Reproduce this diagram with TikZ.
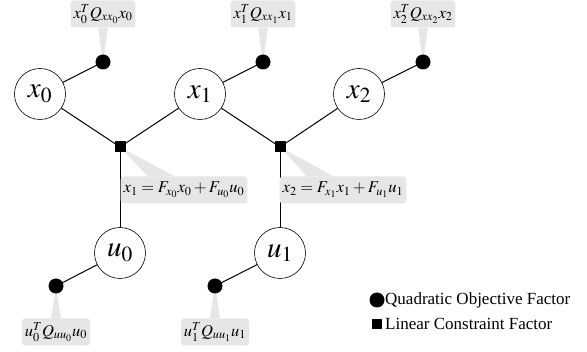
\documentclass[tikz,border=0pt]{standalone}
\usepackage{mathptmx}
\usepackage{fontspec}
\setmainfont{Liberation Serif}
\usetikzlibrary{backgrounds}
\definecolor{boxgray}{HTML}{E6E6E6}
\tikzset{
  var/.style={circle, draw, line width=0.6pt, minimum size=51pt, inner sep=0pt, fill=white, font=\fontsize{29}{29}\selectfont},
  qdot/.style={circle, fill=black, minimum size=15pt, inner sep=0pt},
  lsq/.style={rectangle, fill=black, minimum size=11pt, inner sep=0pt},
  lbl/.style={rectangle, rounded corners=3pt, fill=boxgray, inner sep=3pt, minimum height=27pt, font=\fontsize{16.5}{16.5}\selectfont},
  edge/.style={line width=1pt},
  ptr/.style={fill=boxgray},
  legtxt/.style={anchor=west, inner sep=0pt, font=\fontsize{17}{17}\selectfont}
}
\begin{document}
\begin{tikzpicture}[x=1pt, y=-1pt]
\useasboundingbox (0,0) rectangle (587,352);
% variable nodes
\node[var] (x0) at (40,94) {$x_0$};
\node[var] (x1) at (200,94) {$x_1$};
\node[var] (x2) at (359,94) {$x_2$};
\node[var] (u0) at (120,253) {$u_0$};
\node[var] (u1) at (280,253) {$u_1$};
% quadratic factors
\node[qdot] (qx0) at (103,62) {};
\node[qdot] (qx1) at (263,62) {};
\node[qdot] (qx2) at (423,62) {};
\node[qdot] (qu0) at (56,286) {};
\node[qdot] (qu1) at (215,286) {};
% linear factors
\node[lsq] (f0) at (120,147) {};
\node[lsq] (f1) at (280,147) {};
% labels
\node[lbl] (lx0) at (103,14) {$x_0^TQ_{xx_0}x_0$};
\node[lbl] (lx1) at (263,14) {$x_1^TQ_{xx_1}x_1$};
\node[lbl] (lx2) at (423,14) {$x_2^TQ_{xx_2}x_2$};
\node[lbl] (lf0) at (184,190) {$x_1=F_{x_0}x_0+F_{u_0}u_0$};
\node[lbl] (lf1) at (343,190) {$x_2=F_{x_1}x_1+F_{u_1}u_1$};
\node[lbl] (lu0) at (56,332) {$u_0^TQ_{uu_0}u_0$};
\node[lbl] (lu1) at (215,332) {$u_1^TQ_{uu_1}u_1$};
% pointers
\begin{scope}[on background layer]
\fill[ptr] ([xshift=-5pt]lx0.south) -- (qx0.center) -- ([xshift=5pt]lx0.south) -- cycle;
\fill[ptr] ([xshift=-5pt]lx1.south) -- (qx1.center) -- ([xshift=5pt]lx1.south) -- cycle;
\fill[ptr] ([xshift=-5pt]lx2.south) -- (qx2.center) -- ([xshift=5pt]lx2.south) -- cycle;
\fill[ptr] ([xshift=-5pt]lu0.north) -- (qu0.center) -- ([xshift=5pt]lu0.north) -- cycle;
\fill[ptr] ([xshift=-5pt]lu1.north) -- (qu1.center) -- ([xshift=5pt]lu1.north) -- cycle;
\fill[ptr] ([xshift=27pt]lf0.north west) -- (f0.center) -- ([xshift=54pt]lf0.north west) -- cycle;
\fill[ptr] ([xshift=27pt]lf1.north west) -- (f1.center) -- ([xshift=54pt]lf1.north west) -- cycle;
% edges
\draw[edge] (x0) -- (qx0.center);
\draw[edge] (x1) -- (qx1.center);
\draw[edge] (x2) -- (qx2.center);
\draw[edge] (u0) -- (qu0.center);
\draw[edge] (u1) -- (qu1.center);
\draw[edge] (x0) -- (f0.center);
\draw[edge] (x1) -- (f0.center);
\draw[edge] (u0) -- (f0.center);
\draw[edge] (x1) -- (f1.center);
\draw[edge] (x2) -- (f1.center);
\draw[edge] (u1) -- (f1.center);
\end{scope}
% legend
\node[qdot] (legq) at (377,300) {};
\node[lsq, minimum size=10.5pt] (legl) at (377,324) {};
\node[legtxt] (legqt) at (385,300) {Quadratic Objective Factor};
\node[legtxt] (leglt) at (385,324) {Linear Constraint Factor};
\end{tikzpicture}
\end{document}
